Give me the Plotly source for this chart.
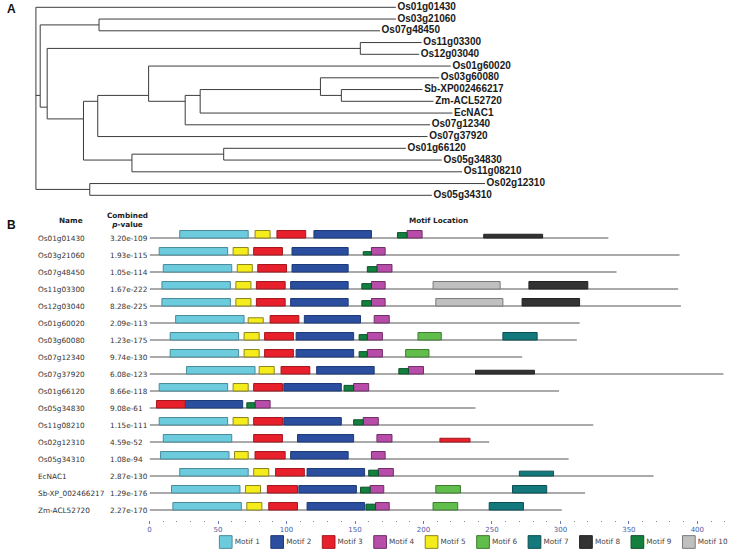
import plotly.graph_objects as go

# ================= Panel A : phylogenetic tree =================
leaf_names = ["Os01g01430", "Os03g21060", "Os07g48450", "Os11g03300", "Os12g03040",
              "Os01g60020", "Os03g60080", "Sb-XP002466217", "Zm-ACL52720", "EcNAC1",
              "Os07g12340", "Os07g37920", "Os01g66120", "Os05g34830", "Os11g08210",
              "Os02g12310", "Os05g34310"]
leaf_parent = ["root", "Na", "Na", "Nb", "Nb", "N5", "N8", "N9", "N9", "N7",
               "N6", "N4", "N11", "N11", "N10", "N12", "N12"]
leaf_depth = [3.61, 3.61, 3.45, 3.867, 3.843, 4.16, 4.043, 3.877, 3.987, 4.177,
              3.953, 3.927, 3.71, 4.07, 4.273, 4.503, 3.97]

node_names = ["root", "N1", "Na", "N2", "Nb", "N3", "N4", "N5", "N6", "N7",
              "N8", "N9", "N10", "N11", "N12"]
node_parent = [None, "root", "N1", "N1", "N2", "N2", "N3", "N4", "N5", "N6",
               "N7", "N8", "N3", "N10", "root"]
node_depth = [0.0, 0.043, 0.633, 0.113, 3.253, 0.477, 0.62, 1.13, 1.497, 1.647,
              2.853, 3.063, 0.963, 1.883, 0.54]

# ================= Panel B : motif locations =================
genes = ["Os01g01430", "Os03g21060", "Os07g48450", "Os11g03300", "Os12g03040",
         "Os01g60020", "Os03g60080", "Os07g12340", "Os07g37920", "Os01g66120",
         "Os05g34830", "Os11g08210", "Os02g12310", "Os05g34310", "EcNAC1",
         "Sb-XP_002466217", "Zm-ACL52720"]
pvalues = ["3.20e-109", "1.93e-115", "1.05e-114", "1.67e-222", "8.28e-225",
           "2.09e-113", "1.23e-175", "9.74e-130", "6.08e-123", "8.66e-118",
           "9.08e-61", "1.15e-111", "4.59e-52", "1.08e-94", "2.87e-130",
           "1.29e-176", "2.27e-170"]
seq_len = [335, 387, 341, 386, 388, 314, 312, 272, 419, 299, 238, 324, 248, 306,
           368, 318, 301]

motif_labels = ["Motif 1", "Motif 2", "Motif 3", "Motif 4", "Motif 5",
                "Motif 6", "Motif 7", "Motif 8", "Motif 9", "Motif 10"]

# sites: (row, start, end[, relative significance height])
motif1_sites = [(0, 22, 72), (1, 7, 57), (2, 10, 60), (3, 9, 59), (4, 9, 59), (5, 19, 69),
                (6, 15, 65), (7, 15, 65), (8, 27, 77), (9, 7, 57), (11, 7, 57), (12, 10, 60),
                (13, 8, 58), (14, 22, 72), (15, 16, 66), (16, 17, 67)]
motif2_sites = [(0, 120, 162), (1, 104, 145), (2, 104, 145), (3, 103, 145), (4, 103, 145),
                (5, 113, 154), (6, 107, 149), (7, 107, 149), (8, 122, 164), (9, 98, 140),
                (10, 26, 68), (11, 98, 140), (12, 108, 149), (13, 103, 145), (14, 115, 157),
                (15, 109, 151), (16, 115, 157)]
motif3_sites = [(0, 93, 114), (1, 76, 97), (2, 79, 100), (3, 78, 99), (4, 78, 99), (5, 88, 109),
                (6, 84, 105), (7, 84, 105), (8, 96, 117), (9, 76, 97), (10, 5, 26), (11, 76, 97),
                (12, 76, 97), (12, 212, 234, 0.5), (13, 77, 99), (14, 92, 113), (15, 86, 108),
                (16, 87, 108)]
motif4_sites = [(0, 188, 199), (1, 162, 172), (2, 166, 177), (3, 162, 172), (4, 162, 172),
                (5, 164, 175), (6, 159, 170), (7, 159, 170), (8, 189, 200), (9, 149, 160),
                (10, 77, 88), (11, 156, 167), (12, 166, 177), (13, 162, 172), (14, 167, 178),
                (15, 161, 171), (16, 165, 175)]
motif5_sites = [(0, 77, 88), (1, 61, 72), (2, 64, 75), (3, 63, 74), (4, 63, 74), (5, 72, 83, 0.7),
                (6, 69, 80), (7, 69, 80), (8, 80, 91), (9, 61, 72), (11, 61, 72), (13, 62, 72),
                (14, 76, 87), (15, 70, 81), (16, 71, 82)]
motif6_sites = [(6, 196, 213), (7, 187, 204), (15, 209, 227), (16, 207, 225)]
motif7_sites = [(6, 258, 283), (14, 270, 295, 0.65), (15, 265, 290), (16, 248, 273)]
motif8_sites = [(0, 244, 287, 0.5), (3, 277, 320), (4, 272, 314), (8, 238, 281, 0.5)]
motif9_sites = [(0, 181, 188, 0.72), (1, 156, 162, 0.45), (2, 159, 166, 0.72), (3, 155, 162, 0.72),
                (4, 155, 162, 0.72), (6, 153, 159, 0.72), (7, 153, 159, 0.72), (8, 182, 189, 0.72),
                (9, 142, 149, 0.75), (10, 71, 77, 0.7), (11, 149, 156, 0.7), (14, 160, 167, 0.78),
                (15, 154, 161, 0.78), (16, 158, 165, 0.78)]
motif10_sites = [(3, 207, 256), (4, 209, 258)]

all_sites = [motif1_sites, motif2_sites, motif3_sites, motif4_sites, motif5_sites,
             motif6_sites, motif7_sites, motif8_sites, motif9_sites, motif10_sites]

axis_ticks = [0, 50, 100, 150, 200, 250, 300, 350, 400]

# ---------------- styles ----------------
motif_fill = ["#6CCBDC", "#2B4E9E", "#E8202B", "#B84DA9", "#F4EC1B",
              "#62BE4C", "#13797D", "#333333", "#14803F", "#C0C0C0"]
motif_edge = ["#4B8C9A", "#1E3A78", "#A3171E", "#6E2E66", "#8C8620",
              "#3E7A30", "#0C4F52", "#222222", "#0C5229", "#7A7A7A"]

W, H = 730, 557


def fx(px):
    return px / W


def fy(px):
    return 1 - px / H


fig = go.Figure()

# ---------- tree geometry ----------
children = {n: [] for n in node_names}
for n, p in zip(node_names, node_parent):
    if p is not None:
        children[p].append(("node", n))
for i, p in enumerate(leaf_parent):
    children[p].append(("leaf", i))
depth_of = dict(zip(node_names, node_depth))


def leaves_under(n):
    out = []
    for kind, c in children[n]:
        if kind == "leaf":
            out.append(c)
        else:
            out.extend(leaves_under(c))
    return out


node_y = {n: sum(leaves_under(n)) / len(leaves_under(n)) for n in node_names}

tx, ty = [], []
for n in node_names:
    ys = []
    for kind, c in children[n]:
        if kind == "leaf":
            cy, cd = c, leaf_depth[c]
        else:
            cy, cd = node_y[c], depth_of[c]
        ys.append(cy)
        tx += [depth_of[n], cd, None]
        ty += [cy, cy, None]
    tx += [depth_of[n], depth_of[n], None]
    ty += [min(ys), max(ys), None]

fig.add_trace(go.Scatter(x=tx, y=ty, mode="lines", line=dict(color="#3c3c3c", width=1),
                         xaxis="x", yaxis="y", hoverinfo="skip", showlegend=False))
fig.add_trace(go.Scatter(x=leaf_depth, y=list(range(len(leaf_names))), mode="markers+text",
                         marker=dict(size=1, color="rgba(0,0,0,0)"),
                         text=leaf_names, textposition="middle right", cliponaxis=False,
                         textfont=dict(family="Liberation Sans", size=10, color="#1a1a1a",
                                       weight="bold"),
                         xaxis="x", yaxis="y", hoverinfo="skip", showlegend=False))

# ---------- motif panel ----------
rows = list(range(len(genes)))
LINE_W = 1.0 / 17
fig.add_trace(go.Bar(orientation="h", y=rows, x=seq_len, base=[0] * len(rows),
                     width=[LINE_W] * len(rows), marker=dict(color="#AAAAAA", line=dict(width=0)),
                     xaxis="x2", yaxis="y2", hoverinfo="skip", showlegend=False))

FULL = 0.44
for k, sites in enumerate(all_sites):
    r = [s[0] for s in sites]
    st = [s[1] for s in sites]
    ln = [s[2] - s[1] for s in sites]
    hh = [FULL * (s[3] if len(s) > 3 else 1.0) for s in sites]
    yy = [ri - h / 2 for ri, h in zip(r, hh)]
    fig.add_trace(go.Bar(orientation="h", y=yy, x=ln, base=st, width=hh,
                         marker=dict(color=motif_fill[k], line=dict(color=motif_edge[k], width=1)),
                         name=motif_labels[k], xaxis="x2", yaxis="y2",
                         hoverinfo="skip", showlegend=False))

# ---------- custom legend ----------
fig.add_trace(go.Scatter(x=list(range(1, len(motif_labels) + 1)), y=[0] * len(motif_labels),
                         mode="markers+text", text=motif_labels, textposition="middle right",
                         marker=dict(symbol="square", size=12.7, color=motif_fill,
                                     line=dict(color=motif_edge, width=1)),
                         textfont=dict(family="DejaVu Sans", size=7.3, color="#444444"),
                         cliponaxis=False, xaxis="x3", yaxis="y3",
                         hoverinfo="skip", showlegend=False))

annotations = []
txtfont = dict(family="DejaVu Sans", size=7.3, color="#333333")
for i, (g, p) in enumerate(zip(genes, pvalues)):
    annotations.append(dict(x=fx(34), y=i, xref="paper", yref="y2", text=g, showarrow=False,
                            xanchor="left", yanchor="middle", font=txtfont))
    annotations.append(dict(x=fx(106.3), y=i, xref="paper", yref="y2", text=p, showarrow=False,
                            xanchor="left", yanchor="middle", font=txtfont))

hdr = dict(family="DejaVu Sans", size=7.3, color="#222222")
annotations += [
    dict(x=fx(69.5), y=fy(220), xref="paper", yref="paper", text="<b>Name</b>",
         showarrow=False, xanchor="center", yanchor="middle", font=hdr),
    dict(x=fx(125.5), y=fy(220), xref="paper", yref="paper",
         text="<b>Combined</b><br><b><i>p</i>-value</b>",
         showarrow=False, xanchor="center", yanchor="middle", font=hdr),
    dict(x=fx(438), y=fy(220), xref="paper", yref="paper", text="<b>Motif Location</b>",
         showarrow=False, xanchor="center", yanchor="middle", font=hdr),
    dict(x=fx(3), y=fy(9), xref="paper", yref="paper", text="<b>A</b>",
         showarrow=False, xanchor="left", yanchor="middle",
         font=dict(family="Liberation Sans", size=12, color="#111111")),
    dict(x=fx(3), y=fy(225), xref="paper", yref="paper", text="<b>B</b>",
         showarrow=False, xanchor="left", yanchor="middle",
         font=dict(family="Liberation Sans", size=12, color="#111111")),
]

hidden = dict(visible=False, showgrid=False, zeroline=False)
fig.update_layout(
    width=W, height=H, margin=dict(l=0, r=0, t=0, b=0),
    paper_bgcolor="white", plot_bgcolor="rgba(0,0,0,0)",
    barmode="overlay", showlegend=False,
    xaxis=dict(domain=[0, 1], range=[-0.34, 6.96], anchor="y", **hidden),
    yaxis=dict(domain=[fy(205), 1], range=[(205 - 7.3) / 11.75, -7.3 / 11.75], anchor="x", **hidden),
    xaxis2=dict(domain=[fx(148), fx(725)], range=[0, 420.2], anchor="y2",
                showgrid=False, zeroline=False, showline=False,
                tickmode="array", tickvals=axis_ticks, ticktext=[str(t) for t in axis_ticks],
                ticks="outside", ticklen=3, tickwidth=1, tickcolor="#6D79B5",
                tickfont=dict(family="DejaVu Sans", size=7, color="#4C5AA6"),
                minor=dict(dtick=10, tick0=0, ticks="outside", ticklen=1, tickwidth=1,
                           tickcolor="#8A8A8A", showgrid=False)),
    yaxis2=dict(domain=[fy(520), fy(225)], range=[(520 - 238) / 17, (225 - 238) / 17],
                anchor="x2", **hidden),
    xaxis3=dict(domain=[0, 1], range=[1 - 224.35 / 51.6, 1 + (730 - 224.35) / 51.6],
                anchor="y3", **hidden),
    yaxis3=dict(domain=[fy(552), fy(532)], range=[-1, 1], anchor="x3", **hidden),
    annotations=annotations,
)

fig.write_html("out.html", config={"displayModeBar": False},
               post_script="document.body.style.margin='0';document.body.style.padding='0';")
